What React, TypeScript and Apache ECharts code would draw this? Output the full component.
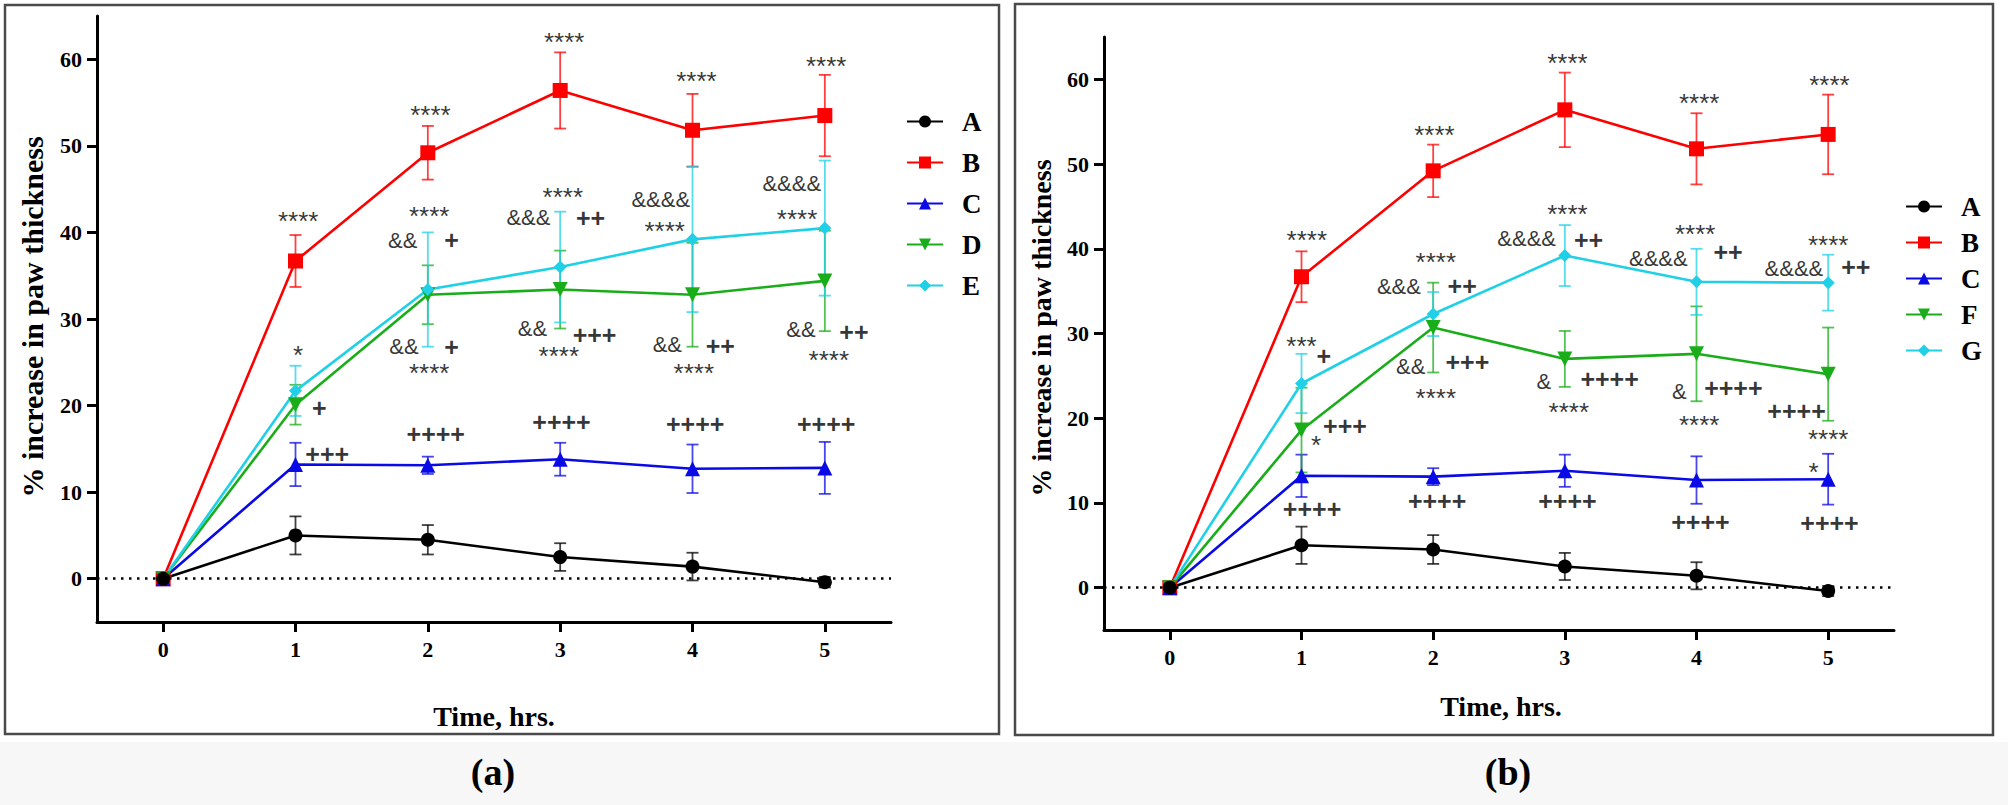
import React, { useEffect, useRef } from "react";
import * as echarts from "echarts";

const times = [0, 1, 2, 3, 4, 5];
const xTicks = [0, 1, 2, 3, 4, 5];
const yTicks = [0, 10, 20, 30, 40, 50, 60];

const A_mean = [0, 5.0, 4.5, 2.5, 1.4, -0.4];
const A_err = [0, 2.2, 1.7, 1.6, 1.6, 0.6];
const B_mean = [0, 36.7, 49.2, 56.4, 51.8, 53.5];
const B_err = [0, 3.0, 3.1, 4.4, 4.2, 4.7];
const C_mean = [0, 13.2, 13.1, 13.8, 12.7, 12.8];
const C_err = [0, 2.5, 1.0, 1.9, 2.8, 3.0];
const D_mean = [0, 20.1, 32.8, 33.4, 32.8, 34.4];
const D_err = [0, 2.3, 3.4, 4.5, 6.0, 5.8];
const E_mean = [0, 21.7, 33.4, 36.0, 39.2, 40.5];
const E_err = [0, 2.9, 6.6, 6.4, 8.4, 7.8];
const F_mean = [0, 18.6, 30.7, 27.0, 27.6, 25.2];
const F_err = [0, 5.0, 5.3, 3.3, 5.6, 5.5];
const G_mean = [0, 24.1, 32.3, 39.2, 36.1, 36.0];
const G_err = [0, 3.5, 2.6, 3.6, 3.9, 3.3];

const annotLeft: [number, number, string][] = [
  [1.02, 42.0, "****"], [2.02, 54.2, "****"], [3.03, 62.7, "****"], [4.03, 58.2, "****"], [5.01, 59.9, "****"],
  [1.02, 26.5, "*"], [1.18, 19.7, "+"], [1.24, 14.4, "+++"],
  [2.01, 42.6, "****"], [1.81, 39.1, "&&"], [2.18, 39.1, "+"],
  [1.82, 26.8, "&&"], [2.18, 26.8, "+"], [2.01, 24.4, "****"], [2.06, 16.7, "++++"],
  [3.02, 44.8, "****"], [2.76, 41.7, "&&&"], [3.23, 41.7, "++"],
  [2.79, 28.9, "&&"], [3.26, 28.2, "+++"], [2.99, 26.4, "****"], [3.01, 18.1, "++++"],
  [3.76, 43.8, "&&&&"], [3.79, 40.9, "****"],
  [3.81, 27.1, "&&"], [4.21, 26.9, "++"], [4.01, 24.5, "****"], [4.02, 17.9, "++++"],
  [4.75, 45.7, "&&&&"], [4.79, 42.3, "****"],
  [4.82, 28.8, "&&"], [5.22, 28.5, "++"], [5.03, 25.9, "****"], [5.01, 17.9, "++++"],
];

const annotRight: [number, number, string][] = [
  [1.04, 41.7, "****"], [2.01, 54.1, "****"], [3.02, 62.6, "****"], [4.02, 57.9, "****"], [5.01, 60.0, "****"],
  [1.0, 29.2, "***"], [1.17, 27.3, "+"], [1.11, 17.6, "*"], [1.33, 19.1, "+++"], [1.08, 9.3, "++++"],
  [2.02, 39.2, "****"], [1.74, 35.6, "&&&"], [2.22, 35.6, "++"],
  [1.83, 26.1, "&&"], [2.26, 26.6, "+++"], [2.02, 23.1, "****"], [2.03, 10.2, "++++"],
  [3.02, 44.8, "****"], [2.71, 41.2, "&&&&"], [3.18, 41.0, "++"],
  [2.84, 24.3, "&"], [3.34, 24.6, "++++"], [3.03, 21.4, "****"], [3.02, 10.2, "++++"],
  [3.99, 42.4, "****"], [3.71, 38.9, "&&&&"], [4.24, 39.6, "++"],
  [3.87, 23.1, "&"], [4.28, 23.6, "++++"], [4.02, 19.9, "****"], [4.03, 7.8, "++++"],
  [5.0, 41.1, "****"], [4.74, 37.7, "&&&&"], [5.21, 37.9, "++"],
  [4.76, 20.8, "++++"], [5.0, 18.2, "****"], [4.89, 14.4, "*"], [5.01, 7.6, "++++"],
];

const COLORS: Record<string, string> = {
  A: "#000000",
  B: "#ff0000",
  C: "#0a0ae6",
  D: "#1aad1a",
  E: "#1fd0e6",
  F: "#1aad1a",
  G: "#1fd0e6",
};
const SYMBOLS: Record<string, [string, number, number]> = {
  A: ["circle", 14, 0],
  B: ["rect", 15, 0],
  C: ["triangle", 15, 0],
  D: ["triangle", 15, 180],
  E: ["diamond", 13, 0],
  F: ["triangle", 15, 180],
  G: ["diamond", 13, 0],
};

const SERIF = "'Liberation Serif', 'Times New Roman', serif";
const SANS = "'Liberation Sans', Arial, sans-serif";

function lineSeries(name: string, mean: number[], idx: number) {
  const [sym, size, rot] = SYMBOLS[name];
  return {
    type: "line",
    name,
    xAxisIndex: idx,
    yAxisIndex: idx,
    data: times.map((t, i) => [t, mean[i]]),
    symbol: sym,
    symbolSize: size,
    symbolRotate: rot,
    showAllSymbol: true,
    lineStyle: { color: COLORS[name], width: 2.6 },
    itemStyle: { color: COLORS[name], opacity: 1 },
    z: 3,
  };
}

function errSeries(name: string, mean: number[], err: number[], idx: number) {
  const color = COLORS[name];
  return {
    type: "custom",
    name: name + "_err",
    xAxisIndex: idx,
    yAxisIndex: idx,
    z: 2,
    silent: true,
    data: times
      .map((t, i) => [t, mean[i] - err[i], mean[i] + err[i]])
      .filter((d, i) => err[i] > 0),
    renderItem: (params: any, api: any) => {
      const x = api.value(0);
      const top = api.coord([x, api.value(2)]);
      const bot = api.coord([x, api.value(1)]);
      const w = 6;
      const style = { stroke: color, lineWidth: 1.8, opacity: 0.75 };
      return {
        type: "group",
        children: [
          { type: "line", shape: { x1: top[0], y1: top[1], x2: bot[0], y2: bot[1] }, style },
          { type: "line", shape: { x1: top[0] - w, y1: top[1], x2: top[0] + w, y2: top[1] }, style },
          { type: "line", shape: { x1: bot[0] - w, y1: bot[1], x2: bot[0] + w, y2: bot[1] }, style },
        ],
      };
    },
  };
}

function labelStyle(t: string) {
  if (t.includes("+")) return { fontSize: 25, fontWeight: "bold", fontFamily: SANS, color: "#000" };
  if (t.includes("*")) return { fontSize: 26, fontFamily: SANS, color: "#000", offset: [0, 6] };
  return { fontSize: 22, fontFamily: SANS, color: "#000" };
}

function annotSeries(list: [number, number, string][], idx: number) {
  return {
    type: "scatter",
    name: "annot" + idx,
    xAxisIndex: idx,
    yAxisIndex: idx,
    symbol: "circle",
    symbolSize: 1,
    itemStyle: { color: "transparent" },
    silent: true,
    z: 5,
    label: { show: true, position: "inside", formatter: "{b}" },
    data: list.map(([x, y, t]) => ({ value: [x, y], name: t, label: labelStyle(t) })),
  };
}

function axes(idx: number) {
  const axisLine = { onZero: false, lineStyle: { color: "#000", width: 3 } };
  const tick = (vals: number[]) => ({ customValues: vals, length: 10, lineStyle: { color: "#000", width: 3 } });
  const lbl = (vals: number[], margin: number) => ({
    customValues: vals,
    fontFamily: SERIF,
    fontWeight: "bold",
    fontSize: 22,
    color: "#000",
    margin,
  });
  return {
    x: {
      type: "value",
      gridIndex: idx,
      min: -0.5,
      max: 5.5,
      axisLine,
      axisTick: tick(xTicks),
      axisLabel: lbl(xTicks, 16),
      splitLine: { show: false },
    },
    y: {
      type: "value",
      gridIndex: idx,
      min: -5,
      max: 65,
      axisLine,
      axisTick: tick(yTicks),
      axisLabel: lbl(yTicks, 15),
      splitLine: { show: false },
    },
  };
}

function zeroLine(idx: number) {
  return {
    type: "line",
    name: "zero" + idx,
    xAxisIndex: idx,
    yAxisIndex: idx,
    data: [],
    silent: true,
    z: 1,
    markLine: {
      silent: true,
      symbol: "none",
      label: { show: false },
      lineStyle: { color: "#000", width: 2.5, type: [2.5, 5.5] },
      data: [{ yAxis: 0 }],
    },
  };
}

export default function App() {
  const ref = useRef<HTMLDivElement>(null);
  useEffect(() => {
    if (!ref.current) return;
    const chart = echarts.init(ref.current, undefined, { renderer: "svg" });
    const a0 = axes(0);
    const a1 = axes(1);
    const leftSet: [string, number[], number[]][] = [
      ["B", B_mean, B_err], ["C", C_mean, C_err], ["D", D_mean, D_err], ["E", E_mean, E_err], ["A", A_mean, A_err],
    ];
    const rightSet: [string, number[], number[]][] = [
      ["B", B_mean, B_err], ["C", C_mean, C_err], ["F", F_mean, F_err], ["G", G_mean, G_err], ["A", A_mean, A_err],
    ];
    const series: any[] = [zeroLine(0), zeroLine(1)];
    leftSet.forEach(([n, m, e]) => series.push(errSeries(n, m, e, 0)));
    rightSet.forEach(([n, m, e]) => series.push(errSeries(n, m, e, 1)));
    leftSet.forEach(([n, m]) => series.push(lineSeries(n, m, 0)));
    rightSet.forEach(([n, m]) => series.push(lineSeries(n, m, 1)));
    series.push(annotSeries(annotLeft, 0));
    series.push(annotSeries(annotRight, 1));

    const legendBase = {
      orient: "vertical",
      itemWidth: 36,
      itemHeight: 15,
      selectedMode: false,
      textStyle: {
        fontFamily: SERIF,
        fontWeight: "bold",
        fontSize: 27,
        color: "#000",
        lineHeight: 27,
        padding: [0, 0, 0, 14],
      },
    };

    chart.setOption({
      animation: false,
      backgroundColor: "#ffffff",
      grid: [
        { left: 97, top: 16, width: 794, height: 606 },
        { left: 1104, top: 37, width: 790, height: 593 },
      ],
      xAxis: [a0.x, a1.x],
      yAxis: [a0.y, a1.y],
      legend: [
        { ...legendBase, left: 901, top: 103, itemGap: 14, data: ["A", "B", "C", "D", "E"] },
        { ...legendBase, left: 1900, top: 188, itemGap: 9, data: ["A", "B", "C", "F", "G"] },
      ],
      graphic: [
        { type: "rect", z: -10, shape: { x: 0, y: 742, width: 2008, height: 63 }, style: { fill: "#f7f7f7" } },
        { type: "rect", z: -5, shape: { x: 5, y: 5, width: 994, height: 729 }, style: { fill: "none", stroke: "#4a4a4a", lineWidth: 2.5 } },
        { type: "rect", z: -5, shape: { x: 1015, y: 4, width: 978, height: 731 }, style: { fill: "none", stroke: "#4a4a4a", lineWidth: 2.5 } },
        { type: "text", x: 32, y: 317, rotation: Math.PI / 2, style: { text: "% increase in paw thickness", fontFamily: SERIF, fontWeight: "bold", fontSize: 30, fill: "#000", align: "center", verticalAlign: "middle" } },
        { type: "text", x: 1041, y: 328, rotation: Math.PI / 2, style: { text: "% increase in paw thickness", fontFamily: SERIF, fontWeight: "bold", fontSize: 28, fill: "#000", align: "center", verticalAlign: "middle" } },
        { type: "text", x: 494, y: 716, style: { text: "Time, hrs.", fontFamily: SERIF, fontWeight: "bold", fontSize: 28, fill: "#000", align: "center", verticalAlign: "middle" } },
        { type: "text", x: 1501, y: 706, style: { text: "Time, hrs.", fontFamily: SERIF, fontWeight: "bold", fontSize: 28, fill: "#000", align: "center", verticalAlign: "middle" } },
        { type: "text", x: 493, y: 772, style: { text: "(a)", fontFamily: SERIF, fontWeight: "bold", fontSize: 38, fill: "#000", align: "center", verticalAlign: "middle" } },
        { type: "text", x: 1508, y: 772, style: { text: "(b)", fontFamily: SERIF, fontWeight: "bold", fontSize: 38, fill: "#000", align: "center", verticalAlign: "middle" } },
      ],
      series,
    });
    return () => chart.dispose();
  }, []);
  return <div ref={ref} style={{ position: "absolute", left: 0, top: 0, width: 2008, height: 805 }} />;
}
